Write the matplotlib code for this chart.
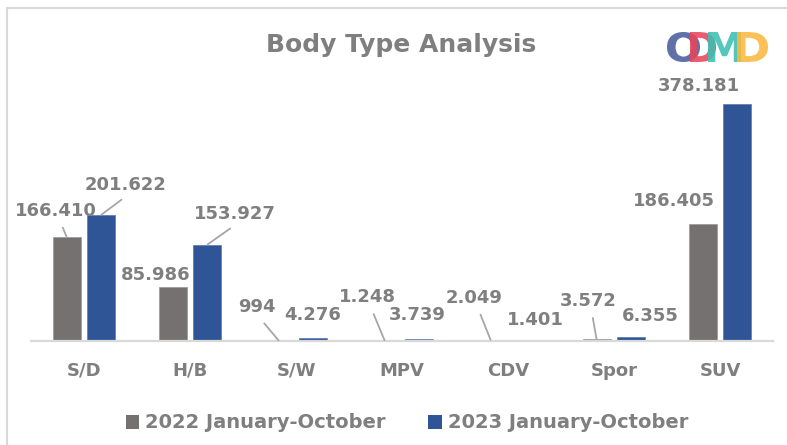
import matplotlib
matplotlib.use("Agg")
import matplotlib.pyplot as plt
from matplotlib.patches import Patch, PathPatch
from matplotlib.textpath import TextPath
from matplotlib.font_manager import FontProperties
from matplotlib.transforms import Affine2D, IdentityTransform
from matplotlib.lines import Line2D
import numpy as np

categories = ["S/D", "H/B", "S/W", "MPV", "CDV", "Spor", "SUV"]
series_names = ["2022 January-October", "2023 January-October"]
values_2022 = [166.410, 85.986, 0.994, 1.248, 2.049, 3.572, 186.405]
values_2023 = [201.622, 153.927, 4.276, 3.739, 1.401, 6.355, 378.181]
labels_2022 = ["166.410", "85.986", "994", "1.248", "2.049", "3.572", "186.405"]
labels_2023 = ["201.622", "153.927", "4.276", "3.739", "1.401", "6.355", "378.181"]

# label offsets (pixels) from bar top, and whether a leader line is drawn
off_2022 = [(-11, 26, True), (-17, 12, False), (-22, 33, True), (-17, 43, True),
            (-16, 42, True), (-8, 38, True), (-29, 23, False)]
off_2023 = [(24, 30, True), (27, 31, True), (-1, 23, False), (-2, 24, False),
            (10, 20, False), (19, 21, False), (-39, 18, False)]

W, H = 787, 445
DPI = 100
GRAY = "#767171"
BLUE = "#2F5597"
TXT = "#7F7F7F"

fig = plt.figure(figsize=(W / DPI, H / DPI), dpi=DPI)
fig.patch.set_facecolor("white")

ymax = 400
px_per_unit = (341 - 104) / 378.181
ax_h = ymax * px_per_unit
ax = fig.add_axes([31 / W, (H - 341) / H, (773 - 31) / W, ax_h / H])

x = np.arange(len(categories))
bw = 0.264
off = 0.165
b1 = ax.bar(x - off, values_2022, bw, color=GRAY, edgecolor="#9a9696", linewidth=0.5, zorder=2)
b2 = ax.bar(x + off, values_2023, bw, color=BLUE, edgecolor="#5a78b0", linewidth=0.5, zorder=2)

ax.set_xlim(-0.5, len(categories) - 0.5)
ax.set_ylim(0, ymax)
for s in ["top", "right", "left"]:
    ax.spines[s].set_visible(False)
ax.spines["bottom"].set_color("#D9D9D9")
ax.spines["bottom"].set_linewidth(1.6)
ax.set_yticks([])
ax.set_xticks(x)
ax.set_xticklabels(categories, fontsize=13, fontweight="bold", color=TXT)
ax.tick_params(axis="x", length=0, pad=15)

def add_labels(xs, vals, labs, offs):
    for xi, v, lab, (dx, dy, lead) in zip(xs, vals, labs, offs):
        kw = {}
        if lead:
            kw["arrowprops"] = dict(arrowstyle="-", color="#A6A6A6", lw=1.3,
                                    relpos=(0.55, 0.0), shrinkA=4, shrinkB=0)
        ax.annotate(lab, xy=(xi, v), xytext=(dx, dy), textcoords="offset pixels",
                    ha="center", va="center", fontsize=13, fontweight="bold",
                    color=TXT, annotation_clip=False, zorder=3, **kw)

add_labels(x - off, values_2022, labels_2022, off_2022)
add_labels(x + off, values_2023, labels_2023, off_2023)

# title
fig.text(401.5 / W, 1 - 45 / H, "Body Type Analysis", ha="center", va="center",
         fontsize=18, fontweight="bold", color=TXT)

# legend
handles = [Patch(facecolor=GRAY, edgecolor="none"), Patch(facecolor=BLUE, edgecolor="none")]
leg = fig.legend(handles, series_names, loc="center", bbox_to_anchor=(407 / W, 1 - 423 / H),
                 ncol=2, frameon=False, handlelength=0.7, handleheight=0.7,
                 handletextpad=0.3, columnspacing=2.2,
                 prop=FontProperties(size=14, weight="bold"))
for t in leg.get_texts():
    t.set_color(TXT)

# chart border (top and left)
fig.add_artist(Line2D([6.5 / W, 6.5 / W], [0, 1 - 7.5 / H], transform=fig.transFigure,
                      color="#D9D9D9", lw=1.5))
fig.add_artist(Line2D([6.5 / W, 1], [1 - 7.5 / H, 1 - 7.5 / H], transform=fig.transFigure,
                      color="#D9D9D9", lw=1.5))

# logo
fp = FontProperties(family="DejaVu Sans", weight="bold")
def letter(ch, x0, x1, y0, y1, color, alpha=0.88):
    tp = TextPath((0, 0), ch, size=100, prop=fp)
    ext = tp.get_extents()
    sx = (x1 - x0) / ext.width
    sy = (y1 - y0) / ext.height
    tr = Affine2D().translate(-ext.x0, -ext.y0).scale(sx, sy).translate(x0, H - y1)
    p = tr.transform_path(tp)
    fig.add_artist(PathPatch(p, transform=IdentityTransform(), facecolor=color,
                             edgecolor="none", alpha=alpha))

letter("O", 667, 700, 32, 62, "#4A5D9C")
letter("D", 690, 716, 32, 62, "#E8455A")
letter("M", 708, 741, 32, 62, "#3DBFB2")
letter("D", 737, 768, 32, 62, "#FBB840")

fig.savefig("out.png", dpi=DPI, facecolor="white")
